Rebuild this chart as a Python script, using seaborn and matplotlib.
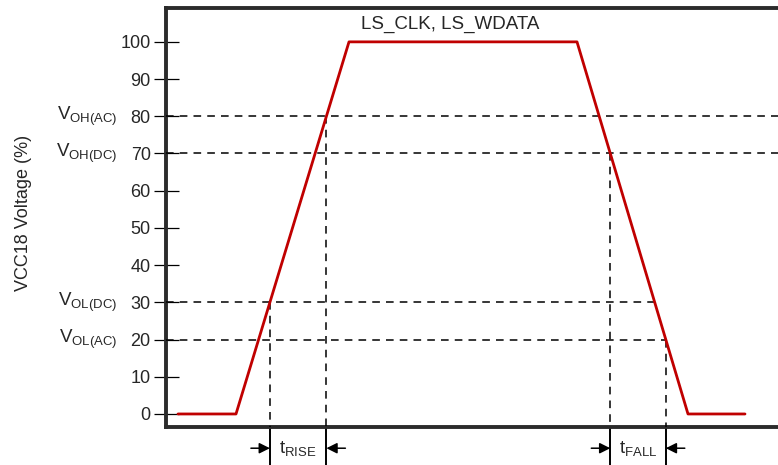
import numpy as np
import pandas as pd
import seaborn as sns
import matplotlib.pyplot as plt

# waveform (time in arbitrary units, voltage in % of VCC18)
time = [0, 58, 171, 399, 510, 567]
volts = [0, 0, 100, 100, 0, 0]

yticks = [0, 10, 20, 30, 40, 50, 60, 70, 80, 90, 100]
levels = [80, 70, 30, 20]
level_labels = [r'V$_{\mathregular{OH(AC)}}$', r'V$_{\mathregular{OH(DC)}}$',
                r'V$_{\mathregular{OL(DC)}}$', r'V$_{\mathregular{OL(AC)}}$']
title = 'LS_CLK, LS_WDATA'

sns.set_style('white')
plt.rcParams['font.family'] = ['Liberation Sans', 'DejaVu Sans']
plt.rcParams['mathtext.fontset'] = 'custom'
plt.rcParams['mathtext.rm'] = 'Liberation Sans'
plt.rcParams['mathtext.it'] = 'Liberation Sans'

fig = plt.figure(figsize=(7.78, 4.65), dpi=100)
ax = fig.add_axes([166 / 778, 1 - 427 / 465, 624 / 778, 419 / 465])

df = pd.DataFrame({'t': time, 'v': volts})
sns.lineplot(data=df, x='t', y='v', ax=ax, color='#c00000', lw=2, zorder=5)

ax.set_xlim(-12, 612)
ax.set_ylim(-3.5, 109.1)

# crossing times on rising and falling edges
rise_t = lambda lv: np.interp(lv, volts[1:3], time[1:3])
fall_t = lambda lv: np.interp(-lv, [-v for v in volts[3:5]], time[3:5])

dash = (0, (5, 4))
bottom_y = -3.5
# horizontal thresholds
for lv, lab in zip(levels, level_labels):
    x_end = 612 if lv >= 70 else fall_t(lv)
    ax.plot([-12, x_end], [lv, lv], color='black', lw=1.1, linestyle=dash, zorder=3)
    ax.text(-0.078, lv, lab, transform=ax.get_yaxis_transform(), ha='right',
            va='center', fontsize=13.5)

# vertical markers
marks = [(rise_t(30), 30), (rise_t(80), 80), (fall_t(70), 70), (fall_t(20), 20)]
for xm, lv in marks:
    ax.plot([xm, xm], [lv, bottom_y], color='black', lw=1.1, linestyle=dash, zorder=3)
    ax.plot([xm, xm], [bottom_y, -14], color='black', lw=1.4, clip_on=False)

arrow_y = -9.2
for (x0, _), (x1, _), lab in [(marks[0], marks[1], r't$_{\mathregular{RISE}}$'),
                              (marks[2], marks[3], r't$_{\mathregular{FALL}}$')]:
    ax.annotate('', xy=(x0, arrow_y), xytext=(x0 - 19, arrow_y), annotation_clip=False,
                arrowprops=dict(arrowstyle='-|>', color='black', lw=1.1,
                                mutation_scale=16, shrinkA=0, shrinkB=0))
    ax.annotate('', xy=(x1, arrow_y), xytext=(x1 + 19, arrow_y), annotation_clip=False,
                arrowprops=dict(arrowstyle='-|>', color='black', lw=1.1,
                                mutation_scale=16, shrinkA=0, shrinkB=0))
    ax.text((x0 + x1) / 2, arrow_y, lab, ha='center', va='center', fontsize=13.5)

ax.text(272, 104.8, title, ha='center', va='center', fontsize=13.5)

ax.set_yticks(yticks)
ax.set_xticks([])
ax.tick_params(axis='y', left=True, direction='inout', length=18, width=0.9,
               color='black', pad=2, labelsize=13)
ax.set_xlabel('')
ax.set_ylabel('VCC18 Voltage (%)', fontsize=13)
ax.yaxis.set_label_coords((32 - 166) / 624, 0.51)
for s in ['left', 'bottom', 'top', 'right']:
    ax.spines[s].set_linewidth(2.8)
    ax.spines[s].set_color('#2b2b2b')

fig.savefig('out.png', dpi=100)
